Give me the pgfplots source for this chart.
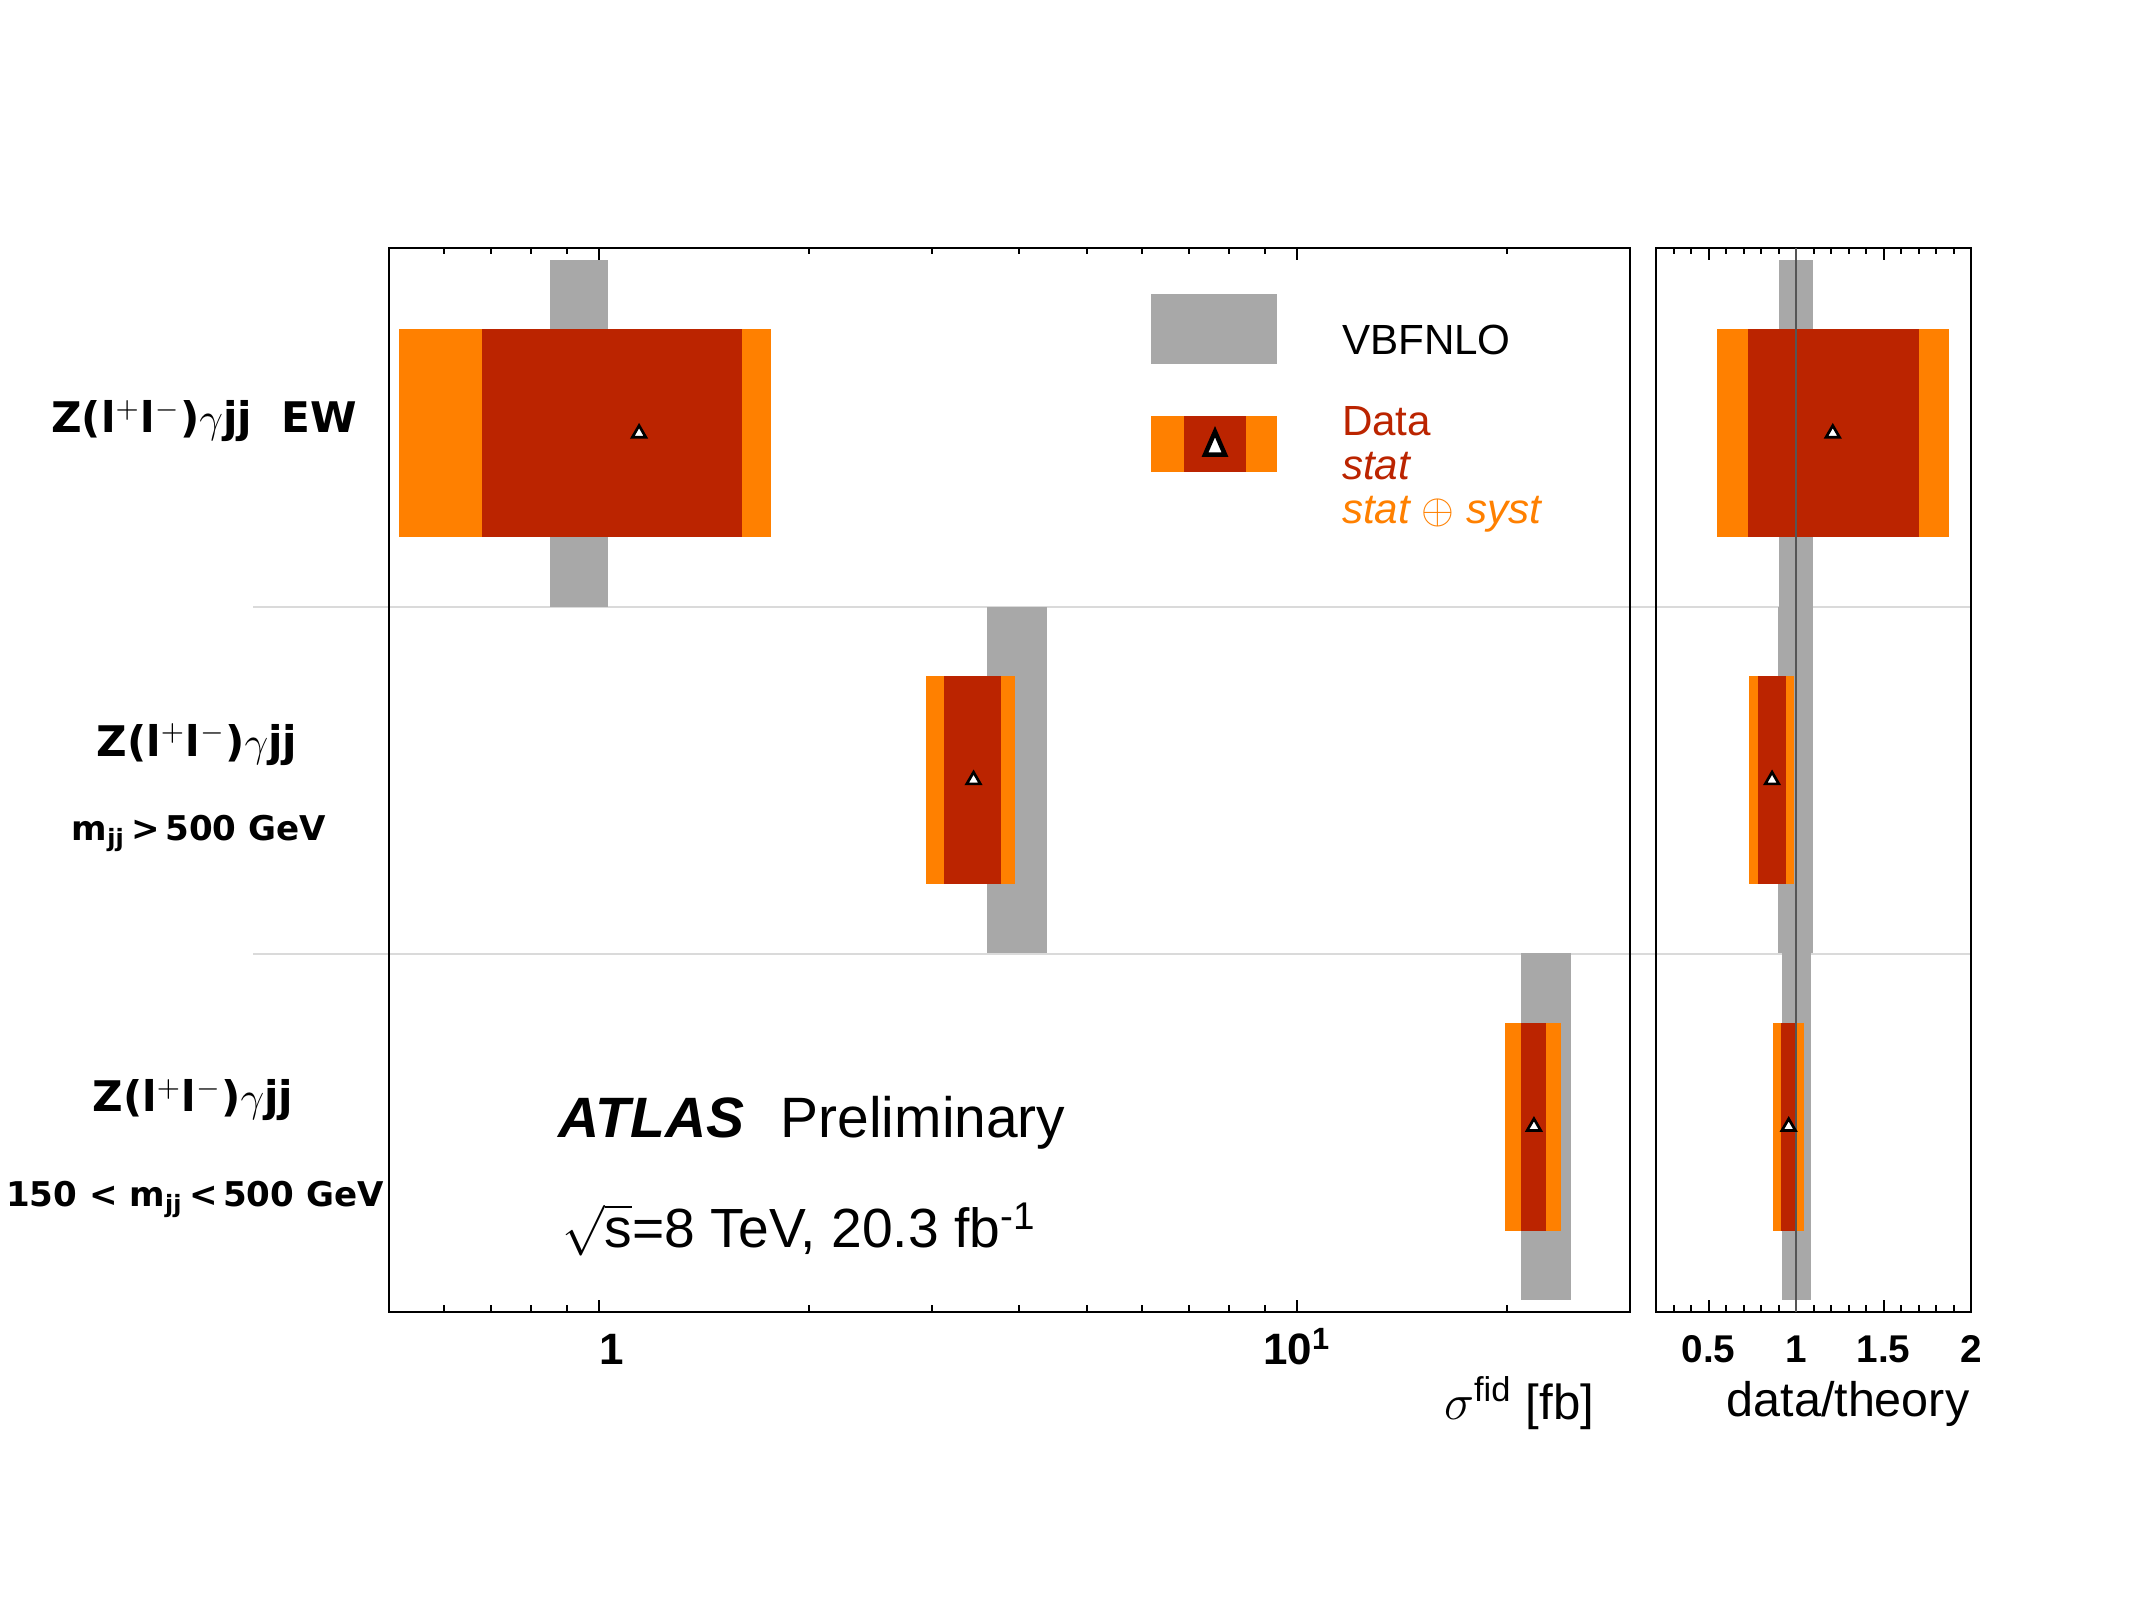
\documentclass[border=0pt]{standalone}
\usepackage{amsmath}
\usepackage{pgfplots}
\pgfplotsset{compat=1.18}
\usepackage{fontspec}
\setmainfont{Liberation Sans}
\newfontfamily\djv{DejaVu Sans}
\definecolor{thgray}{RGB}{168,168,168}
\definecolor{syorange}{RGB}{255,128,0}
\definecolor{stred}{RGB}{187,36,0}
\definecolor{sepgray}{RGB}{218,218,218}
\definecolor{ongray}{RGB}{85,85,85}
\newcommand{\rect}[5]{\addplot[fill=#1, draw=none, forget plot] coordinates {(#2,#4) (#3,#4) (#3,#5) (#2,#5)};}
\newcommand{\labfont}{\djv\bfseries\fontsize{12}{15}\selectfont}
\newcommand{\subfont}{\djv\bfseries\fontsize{9.7}{12}\selectfont}
\newcommand{\legfont}{\fontsize{12}{14}\selectfont}
\begin{document}
\begin{tikzpicture}
\path[use as bounding box] (0,0) rectangle (21.34,16);
\draw[sepgray, line width=0.02cm] (2.53,9.93) -- (19.71,9.93);
\draw[sepgray, line width=0.02cm] (2.53,6.46) -- (19.71,6.46);
\pgfplotsset{
  rowaxis/.style={
    anchor=south west, scale only axis, height=10.64cm,
    ymin=-0.035, ymax=3.035, ytick=\empty,
    tick align=inside, xtick pos=both, xticklabel pos=lower,
    major tick length=0.12cm, minor tick length=0.065cm,
    axis line style={line width=0.02cm},
    every tick/.append style={line width=0.02cm, black},
  }
}
% ---------------- main panel ----------------
\begin{axis}[rowaxis, at={(3.89cm,2.88cm)}, width=12.41cm,
  xmode=log, xmin=0.5, xmax=30,
  xtick={1,10}, xticklabels={{\makebox[0pt][l]{1}},{10\textsuperscript{1}}},
  minor xtick={0.6,0.7,0.8,0.9,2,3,4,5,6,7,8,9,20},
  xticklabel style={anchor=base, yshift=-0.53cm, font=\bfseries\fontsize{12.5}{14}\selectfont},
  legend style={at={(axis description cs:0.61402,0.92951)}, anchor=north west,
    draw=none, fill=none, inner sep=0pt, outer sep=0pt,
    row sep=0.02cm, column sep=0.65cm,
    cells={anchor=base west},
    nodes={inner sep=0pt, outer sep=0pt, anchor=base west,
           text height=0.32cm, text depth=0.1cm, font=\legfont}},
]
% theory (VBFNLO)
\rect{thgray}{0.851}{1.030}{2}{3}
\rect{thgray}{3.60}{4.39}{1}{2}
\rect{thgray}{20.97}{24.7}{0}{1}
% data stat+syst
\rect{syorange}{0.5175}{1.763}{2.2}{2.8}
\rect{syorange}{2.94}{3.95}{1.2}{1.8}
\rect{syorange}{19.84}{23.86}{0.2}{0.8}
% data stat
\rect{stred}{0.680}{1.602}{2.2}{2.8}
\rect{stred}{3.12}{3.76}{1.2}{1.8}
\rect{stred}{20.97}{22.76}{0.2}{0.8}
% central values
\addplot[only marks, mark=triangle*, mark size=0.078cm,
  mark options={fill=white, draw=black, line width=0.027cm}, forget plot]
  coordinates {(1.141,2.5) (3.44,1.5) (21.85,0.5)};
% legend
\addlegendimage{legend image code/.code={
  \fill[thgray, draw=none, overlay] (0cm,-0.09cm) rectangle (1.26cm,0.61cm);
  \path[draw=none, fill=none] (0cm,0cm) -- (1.26cm,0cm);}}
\addlegendentry[text depth=0.467cm]{VBFNLO}
\addlegendimage{legend image code/.code={
  \fill[syorange, draw=none, overlay] (0cm,-0.36cm) rectangle (1.26cm,0.20cm);
  \fill[stred, draw=none, overlay] (0.33cm,-0.36cm) rectangle (0.95cm,0.20cm);
  \draw[black, fill=white, line width=0.045cm, overlay] (0.54cm,-0.19cm) -- (0.74cm,-0.19cm) -- (0.64cm,0.04cm) -- cycle;
  \path[draw=none, fill=none] (0cm,0cm) -- (1.26cm,0cm);}}
\addlegendentry[text=stred]{Data}
\addlegendimage{empty legend}
\addlegendentry[text=stred, font=\itshape\legfont]{stat}
\addlegendimage{empty legend}
\addlegendentry[text=syorange, font=\itshape\legfont]{stat $\oplus$ syst}
\end{axis}
% ---------------- ratio panel ----------------
\begin{axis}[rowaxis, at={(16.56cm,2.88cm)}, width=3.15cm,
  xmin=0.2, xmax=2.0,
  xtick={0.5,1,1.5,2}, xticklabels={0.5,1,1.5,2},
  minor xtick={0.3,0.4,0.6,0.7,0.8,0.9,1.1,1.2,1.3,1.4,1.6,1.7,1.8,1.9},
  xticklabel style={anchor=base, yshift=-0.51cm, font=\bfseries\fontsize{11}{13}\selectfont},
]
\rect{thgray}{0.905}{1.095}{2}{3}
\rect{thgray}{0.899}{1.099}{1}{2}
\rect{thgray}{0.918}{1.084}{0}{1}
\rect{syorange}{0.550}{1.874}{2.2}{2.8}
\rect{syorange}{0.733}{0.987}{1.2}{1.8}
\rect{syorange}{0.869}{1.044}{0.2}{0.8}
\rect{stred}{0.724}{1.701}{2.2}{2.8}
\rect{stred}{0.783}{0.941}{1.2}{1.8}
\rect{stred}{0.916}{0.996}{0.2}{0.8}
\addplot[ongray, line width=0.02cm, forget plot] coordinates {(1,-0.035) (1,3.035)};
\addplot[only marks, mark=triangle*, mark size=0.078cm,
  mark options={fill=white, draw=black, line width=0.027cm}, forget plot]
  coordinates {(1.21,2.5) (0.863,1.5) (0.958,0.5)};
\end{axis}
% ---------------- labels ----------------
\node[font=\labfont] at (2.04,11.79) {Z(l$^{+}$l$^{-}$)$\gamma$jj\ \ EW};
\node[font=\labfont] at (1.97,8.555) {Z(l$^{+}$l$^{-}$)$\gamma$jj};
\node[font=\subfont] at (1.99,7.67) {m\textsubscript{jj}\,>\,500 GeV};
\node[font=\labfont] at (1.93,5.00) {Z(l$^{+}$l$^{-}$)$\gamma$jj};
\node[font=\subfont] at (1.95,4.01) {150 < m\textsubscript{jj}\,<\,500 GeV};
\node[anchor=base west, inner sep=0pt, font=\bfseries\itshape\fontsize{16.2}{19}\selectfont] at (5.58,4.62) {ATLAS};
\node[anchor=base west, inner sep=0pt, font=\fontsize{16.2}{19}\selectfont] at (7.80,4.62) {Preliminary};
\node[anchor=base west, inner sep=0pt, font=\fontsize{15.7}{19}\selectfont] at (5.62,3.52) {$\sqrt{\mbox{s}}$=8 TeV, 20.3 fb\textsuperscript{-1}};
\node[anchor=base east, inner sep=0pt, font=\fontsize{14}{16}\selectfont] at (15.95,1.80) {$\sigma^{\text{fid}}$ [fb]};
\node[anchor=base east, inner sep=0pt, font=\fontsize{13.8}{16}\selectfont] at (19.70,1.83) {data/theory};
\end{tikzpicture}
\end{document}
